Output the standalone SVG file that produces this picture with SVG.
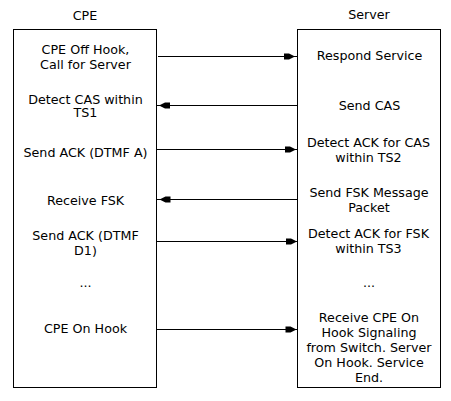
<svg xmlns="http://www.w3.org/2000/svg" width="451" height="401" viewBox="0 0 451 401">
<style>
text{font-family:"DejaVu Sans",Verdana,sans-serif;font-size:12.7px;fill:#000;text-anchor:middle}
.box{fill:#fff;stroke:#000;stroke-width:1}
.ln{stroke:#000;stroke-width:1;fill:none}
.ah{fill:#000;stroke:none}
</style>
<defs>
<path id="headR" d="M-10,-3 L-5,-3 L0,-0.5 L0,0.5 L-5,3 L-10,3 Z"/>
<path id="headL" d="M10,-3 L5,-3 L0,-0.5 L0,0.5 L5,3 L10,3 Z"/>
</defs>
<rect width="451" height="401" fill="#fff"/>
<g id="cpe">
<text x="85" y="19.5">CPE</text>
<rect class="box" x="13.5" y="29.5" width="143" height="358"/>
<text x="85.5" y="54">CPE Off Hook,</text>
<text x="85.5" y="68.5">Call for Server</text>
<text x="85.5" y="103.5">Detect CAS within</text>
<text x="85.5" y="117">TS1</text>
<text x="85.5" y="156.5">Send ACK (DTMF A)</text>
<text x="85.5" y="205">Receive FSK</text>
<text x="85.5" y="240">Send ACK (DTMF</text>
<text x="85.5" y="254.5">D1)</text>
<text x="85.5" y="286.5">...</text>
<text x="85.5" y="333">CPE On Hook</text>
</g>
<g id="server">
<text x="369" y="19">Server</text>
<rect class="box" x="297.5" y="29.5" width="143" height="358"/>
<text x="369.5" y="60">Respond Service</text>
<text x="369.5" y="110">Send CAS</text>
<text x="368.5" y="146.5">Detect ACK for CAS</text>
<text x="368.5" y="161.5">within TS2</text>
<text x="369" y="196.5">Send FSK Message</text>
<text x="369" y="211.5">Packet</text>
<text x="368.5" y="238">Detect ACK for FSK</text>
<text x="368.5" y="253">within TS3</text>
<text x="369" y="287">...</text>
<text x="369" y="321.5">Receive CPE On</text>
<text x="369" y="336.5">Hook Signaling</text>
<text x="369" y="351.5">from Switch. Server</text>
<text x="369" y="366.5">On Hook. Service</text>
<text x="369" y="381.5">End.</text>
</g>
<g id="connectors">
<line class="ln" x1="158" y1="56.5" x2="297" y2="56.5"/>
<use href="#headR" class="ah" x="294" y="56.5"/>
<line class="ln" x1="157" y1="105.5" x2="297" y2="105.5"/>
<use href="#headL" class="ah" x="160" y="105.5"/>
<line class="ln" x1="157" y1="149.5" x2="297" y2="149.5"/>
<use href="#headR" class="ah" x="295" y="149.5"/>
<line class="ln" x1="157" y1="199.5" x2="297" y2="199.5"/>
<use href="#headL" class="ah" x="160.5" y="199.5"/>
<line class="ln" x1="157" y1="241.5" x2="298" y2="241.5"/>
<use href="#headR" class="ah" x="296" y="241.5"/>
<line class="ln" x1="157" y1="329.5" x2="298" y2="329.5"/>
<use href="#headR" class="ah" x="295.5" y="329.5"/>
</g>
</svg>
